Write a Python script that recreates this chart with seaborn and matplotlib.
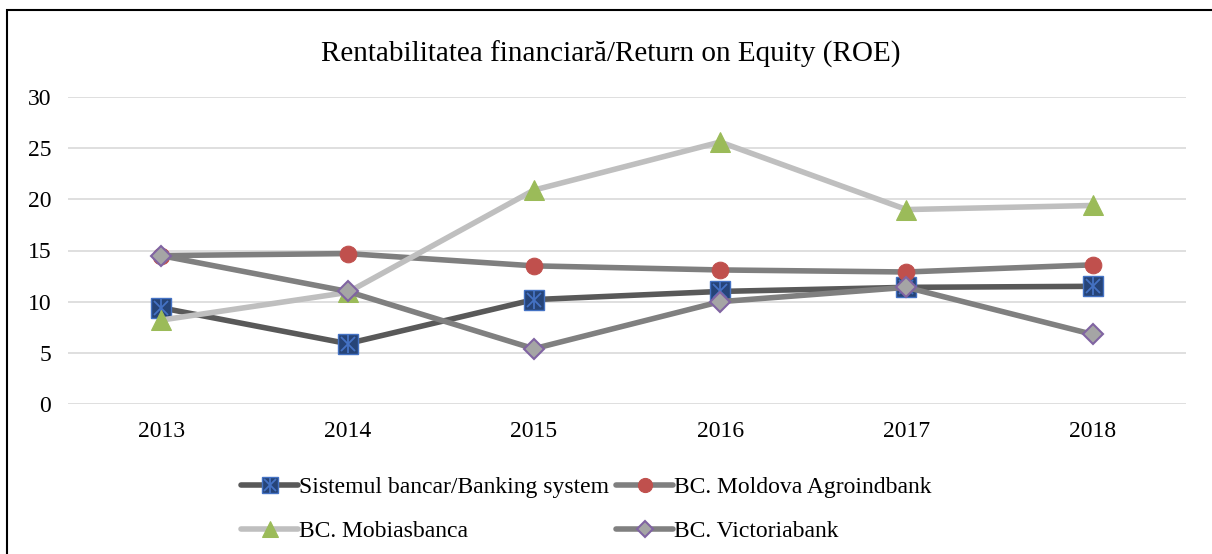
import matplotlib
matplotlib.use("Agg")
import matplotlib.pyplot as plt
import seaborn as sns
import numpy as np
from matplotlib.patches import Rectangle
from matplotlib.legend_handler import HandlerTuple

years = ["2013", "2014", "2015", "2016", "2017", "2018"]
banking = [9.4, 5.9, 10.2, 11.0, 11.4, 11.5]
maib = [14.5, 14.7, 13.5, 13.1, 12.9, 13.6]
mobias = [8.2, 10.9, 20.9, 25.6, 19.0, 19.4]
victoria = [14.5, 11.0, 5.4, 10.0, 11.4, 6.8]

labels = ["Sistemul bancar/Banking system", "BC. Moldova Agroindbank",
          "BC. Mobiasbanca", "BC. Victoriabank"]

sns.set_style("white", {"text.color": "black", "xtick.color": "black",
                        "ytick.color": "black"})
plt.rcParams["font.family"] = ["Liberation Serif", "DejaVu Serif"]

fig = plt.figure(figsize=(12.12, 5.54), dpi=100)
ax = fig.add_axes([68 / 1212, 1 - 404 / 554, (1186 - 68) / 1212, (404 - 97) / 554])

x = np.arange(len(years))
lw = 4

# banking system: dark line, navy square with a star inside
sns.lineplot(x=x, y=banking, ax=ax, color="#595959", linewidth=lw,
             marker="s", markersize=14, markerfacecolor="#264478",
             markeredgecolor="#4472C4", markeredgewidth=1)
sns.lineplot(x=x, y=banking, ax=ax, linestyle="none", marker="x",
             markersize=10, markeredgecolor="#4472C4", markeredgewidth=1.3)
sns.lineplot(x=x, y=banking, ax=ax, linestyle="none", marker="|",
             markersize=13, markeredgecolor="#4472C4", markeredgewidth=1.3)

sns.lineplot(x=x, y=maib, ax=ax, color="#7F7F7F", linewidth=lw,
             marker="o", markersize=12, markerfacecolor="#C0504D",
             markeredgecolor="#C0504D")
sns.lineplot(x=x, y=mobias, ax=ax, color="#BFBFBF", linewidth=lw,
             marker="^", markersize=14, markerfacecolor="#9BBB59",
             markeredgecolor="#9BBB59")
sns.lineplot(x=x, y=victoria, ax=ax, color="#808080", linewidth=lw,
             marker="D", markersize=10, markerfacecolor="#A5A5A5",
             markeredgecolor="#8064A2", markeredgewidth=1.5)

ax.set_xlim(-0.5, len(years) - 0.5)
ax.set_ylim(0, 30)
ax.set_xticks(x)
ax.set_xticklabels(years)
ax.set_yticks(range(0, 31, 5))
ax.tick_params(length=0, labelsize=17, pad=12, labelcolor="black")
ax.yaxis.grid(True, color="#D9D9D9", linewidth=1.2)
ax.set_axisbelow(True)
for s in ax.spines.values():
    s.set_visible(False)

ln = ax.lines
# legend fills by row in the reference: reorder for column-wise filling
handles = [(ln[0], ln[1], ln[2]), ln[4], ln[3], ln[5]]
labs = [labels[0], labels[2], labels[1], labels[3]]
fig.legend(handles, labs, ncol=2, loc="upper left",
           bbox_to_anchor=(232 / 1212, 1 - 467 / 554), frameon=False,
           fontsize=17, handlelength=2.4, handletextpad=0.05,
           columnspacing=0.3, labelspacing=0.95, borderaxespad=0,
           markerscale=0.85, labelcolor="black",
           handler_map={tuple: HandlerTuple(ndivide=1)})

fig.text(611 / 1212, 1 - 54 / 554, "Rentabilitatea financiară/Return on Equity (ROE)",
         ha="center", va="center", fontsize=21, color="black")

fig.patches.append(Rectangle((7 / 1212, -0.1), 1.2, 1 - 10 / 554 + 0.1,
                             transform=fig.transFigure, fill=False,
                             edgecolor="black", linewidth=1.5))

fig.savefig("out.png", dpi=100)
